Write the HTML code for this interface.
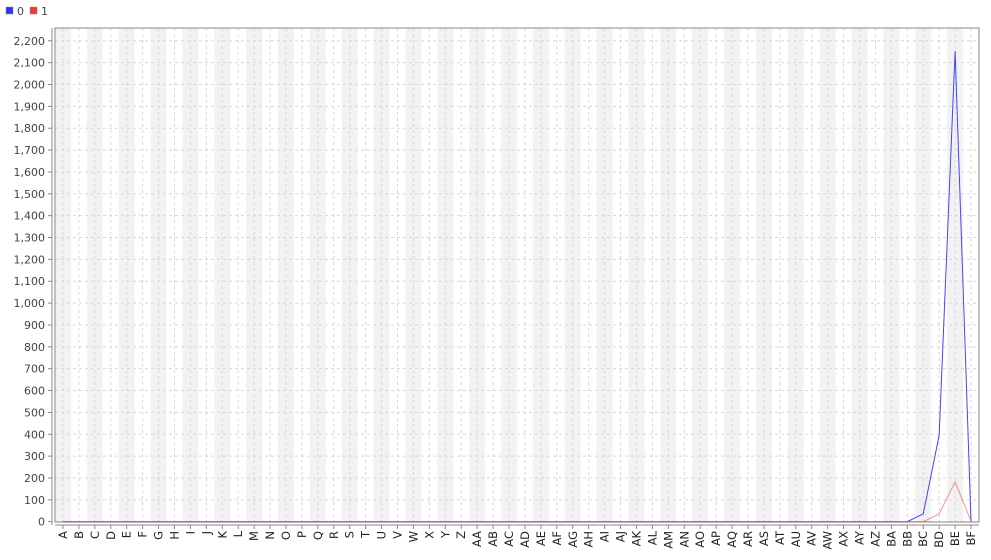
<!DOCTYPE html>
<html><head><meta charset="utf-8"><style>
body{margin:0;background:#fff;width:991px;height:555px;overflow:hidden;font-family:"Liberation Sans","DejaVu Sans",sans-serif}
svg text{font-family:"DejaVu Sans","Liberation Sans",sans-serif;font-size:11px;fill:#444}
svg text.xl{font-size:11.5px;fill:#222}
</style></head><body>
<svg id="c" width="991" height="555">
<g>
<rect x="6" y="7" width="7" height="7" fill="#3333ff" stroke="#888" stroke-width="0.5"/>
<text x="17" y="15">0</text>
<rect x="30" y="7" width="7" height="7" fill="#ff3333" stroke="#888" stroke-width="0.5"/>
<text x="41" y="15">1</text>
</g>
</svg>
<script>
const categories=[];
const letters="ABCDEFGHIJKLMNOPQRSTUVWXYZ";
for(const l of letters)categories.push(l);
for(const l of letters)categories.push("A"+l);
for(const l of "ABCDEF")categories.push("B"+l);
const series0=[0,0,0,0,0,0,0,0,0,0,0,0,0,0,0,0,0,0,0,0,0,0,0,0,0,0,0,0,0,0,0,0,0,0,0,0,0,0,0,0,0,0,0,0,0,0,0,0,0,0,0,0,0,0,36,396,2153,0];
const series1=[0,0,0,0,0,0,0,0,0,0,0,0,0,0,0,0,0,0,0,0,0,0,0,0,0,0,0,0,0,0,0,0,0,0,0,0,0,0,0,0,0,0,0,0,0,0,0,0,0,0,0,0,0,0,0,36,182,3];
const yTicks=[0,100,200,300,400,500,600,700,800,900,1000,1100,1200,1300,1400,1500,1600,1700,1800,1900,2000,2100,2200];
const svg=document.getElementById('c');const NS="http://www.w3.org/2000/svg";
const L=55,R=979,T=28,B=522,y0=521.7,yPer=21.86/100;
const bw=(R-L)/categories.length;
const xs=i=>L+bw*(i+0.5);
const ys=v=>y0-v*yPer;
function mk(t,a,p){const e=document.createElementNS(NS,t);for(const k in a)e.setAttribute(k,a[k]);(p||svg).appendChild(e);return e;}
const plot=mk('g',{});


categories.forEach((c,i)=>{if(i%2==0){const r=mk('rect',{x:L+bw*i,y:T,width:bw,height:B-T,fill:'#f2f2f2'},plot);

}});
yTicks.forEach(v=>{const g=mk('line',{x1:L,x2:R,y1:ys(v),y2:ys(v),stroke:'#d8d8d8','stroke-dasharray':'3,3'},plot);


const tk=mk('line',{x1:48,x2:52,y1:ys(v),y2:ys(v),stroke:'#888'});


const t=mk('text',{x:45,y:ys(v)+4,'text-anchor':'end'});t.textContent=v.toLocaleString('en-US');

});
categories.forEach((c,i)=>{const g=mk('line',{x1:xs(i),x2:xs(i),y1:T,y2:B,stroke:'#d8d8d8','stroke-dasharray':'3,3'},plot);


const tk=mk('line',{x1:xs(i),x2:xs(i),y1:525,y2:529,stroke:'#888'});


const t=mk('text',{x:0,y:0,'text-anchor':'end','class':'xl',transform:`translate(${xs(i)+4},531) rotate(-90)`});t.textContent=c;

});
const fr=mk('rect',{x:L,y:T,width:R-L,height:B-T,fill:'none',stroke:'#888'});


const ya=mk('line',{x1:52,x2:52,y1:T,y2:525,stroke:'#888'});


const xa=mk('line',{x1:L,x2:R,y1:525,y2:525,stroke:'#888'});


const l0=mk('polyline',{points:series0.map((v,i)=>xs(i)+','+ys(v)).join(' '),fill:'none',stroke:'#4444ff','stroke-width':1});


const l1=mk('polyline',{points:series1.map((v,i)=>xs(i)+','+ys(v)).join(' '),fill:'none',stroke:'#ff4444','stroke-width':1,'stroke-opacity':0.6});


</script>
</body></html>
